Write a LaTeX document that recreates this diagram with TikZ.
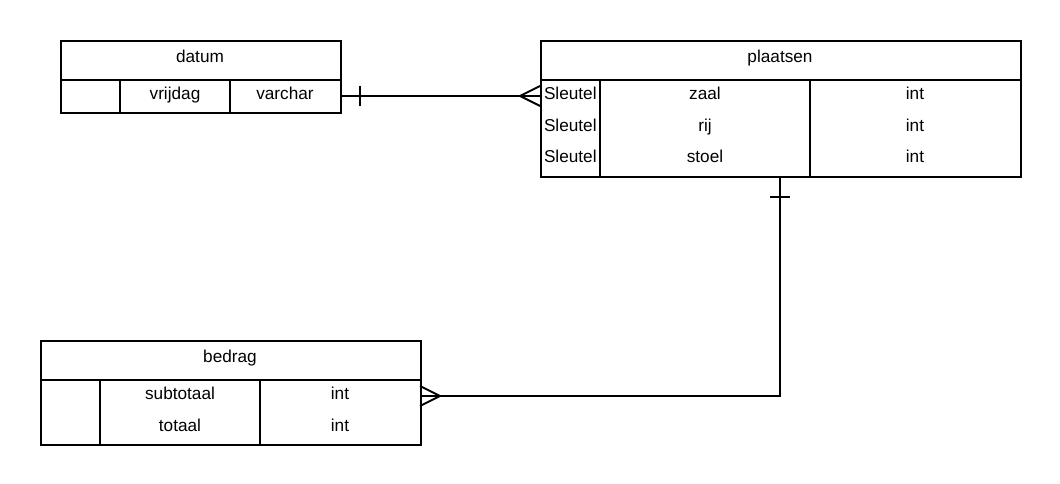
\documentclass[tikz,border=0pt]{standalone}
\usepackage{fontspec}
\setmainfont{Liberation Sans}
\begin{document}
\begin{tikzpicture}[x=0.75pt,y=-0.75pt,line width=1.5pt,
  tbl/.style={draw,rectangle,anchor=north west,inner sep=0pt},
  txt/.style={font=\fontsize{12.9pt}{15pt}\selectfont,inner sep=0pt,anchor=center,text height=9.3pt,text depth=2.7pt},
  ltxt/.style={txt,anchor=west}]
\useasboundingbox (0,0) rectangle (1060,484);
% datum
\node[tbl,minimum width=210pt,minimum height=54pt] (datum) at (60,40) {};
\draw (60,80) -- (340,80);
\draw (120,80) -- (120,112);
\draw (230,80) -- (230,112);
\node[txt] (dt) at (200,58) {datum};
\node[txt] (d1) at (175,95) {vrijdag};
\node[txt] (d2) at (285,95) {varchar};
% plaatsen
\node[tbl,minimum width=360pt,minimum height=102pt] (plaatsen) at (540,40) {};
\draw (540,80) -- (1020,80);
\draw (600,80) -- (600,176);
\draw (810,80) -- (810,176);
\node[txt] (pt) at (780,58) {plaatsen};
\node[ltxt] (s1) at (543,95) {Sleutel};
\node[ltxt] (s2) at (543,127) {Sleutel};
\node[ltxt] (s3) at (543,158) {Sleutel};
\node[txt] (p1) at (705,95) {zaal};
\node[txt] (p2) at (705,127) {rij};
\node[txt] (p3) at (705,158) {stoel};
\node[txt] (q1) at (915,95) {int};
\node[txt] (q2) at (915,127) {int};
\node[txt] (q3) at (915,158) {int};
% bedrag
\node[tbl,minimum width=285pt,minimum height=78pt] (bedrag) at (40,340) {};
\draw (40,380) -- (420,380);
\draw (100,380) -- (100,444);
\draw (260,380) -- (260,444);
\node[txt] (bt) at (230,358) {bedrag};
\node[txt] (b1) at (180,395) {subtotaal};
\node[txt] (b2) at (180,427) {totaal};
\node[txt] (c1) at (340,395) {int};
\node[txt] (c2) at (340,427) {int};
% connector 1
\coordinate (e1) at (340,96);
\coordinate (e2) at (540,96);
\draw (e1) -- (e2);
\draw (360,86) -- (360,106);
\draw (540,86) -- (520,96) -- (540,106);
% connector 2
\coordinate (f1) at (780,176);
\coordinate (f2) at (420,396);
\draw (f1) |- (f2);
\draw (770,197) -- (790,197);
\draw (420,386) -- (440,396) -- (420,406);
\end{tikzpicture}
\end{document}
